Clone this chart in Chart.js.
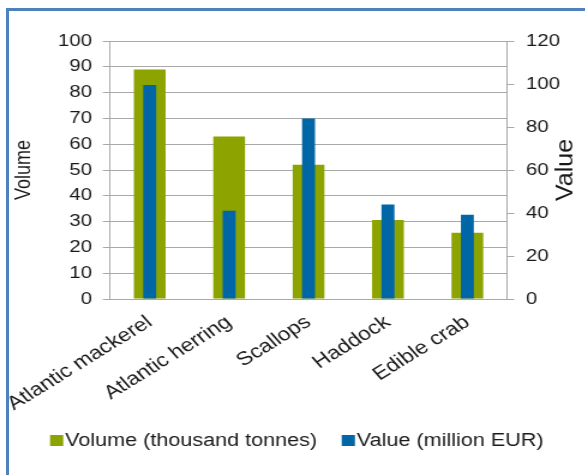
<!DOCTYPE html>
<html>
<head>
<meta charset="utf-8">
<script src="https://cdn.jsdelivr.net/npm/chart.js@4.4.1/dist/chart.umd.min.js"></script>
<style>
  html, body { margin: 0; padding: 0; background: #fff; overflow: hidden; }
  /* the reference is a horizontally stretched export, so the chart is drawn narrow and scaled */
  #wrap { position: absolute; left: 0; top: 0; width: 488px; height: 475px; transform: scaleX(1.2); transform-origin: 0 0; }
  #frame { position: absolute; left: 6px; top: 8px; width: 700px; height: 600px; border-left: 3px solid #4f81bd; border-top: 3px solid #4f81bd; }
</style>
</head>
<body>
<div id="wrap"><canvas id="chart"></canvas></div>
<div id="frame"></div>
<script>
// Data
const categories = ['Atlantic mackerel', 'Atlantic herring', 'Scallops', 'Haddock', 'Edible crab'];
const volumeValues = [89, 63, 52, 30.6, 25.7];   // thousand tonnes
const valueValues = [99.5, 41, 84, 44, 39.2];    // million EUR
const volumeTicks = [0, 10, 20, 30, 40, 50, 60, 70, 80, 90, 100];
const valueTicks = [0, 20, 40, 60, 80, 100, 120];

const colors = {
    volume: '#8ca300',
    value: '#0066a6',
    grid: '#a8a8a8',
    text: '#1a1a1a'
};
const FONT = '"Liberation Sans", Arial, sans-serif';

// Right axis title reads bottom-to-top, so draw it by hand
const valueTitlePlugin = {
    id: 'valueTitle',
    afterDraw(chart) {
        const scale = chart.scales.y1;
        const { ctx, chartArea } = chart;
        ctx.save();
        ctx.translate(471, (chartArea.top + chartArea.bottom) / 2);
        ctx.rotate(-Math.PI / 2);
        ctx.scale(1, 0.83);
        ctx.font = '25px ' + FONT;
        ctx.fillStyle = colors.text;
        ctx.textAlign = 'center';
        ctx.textBaseline = 'middle';
        ctx.fillText(scale.options.title.text, 0, 0);
        ctx.restore();
    }
};

// Legend with a tight box-to-text gap
const boxLegendPlugin = {
    id: 'boxLegend',
    afterDraw(chart, args, opts) {
        const ctx = chart.ctx;
        ctx.save();
        ctx.font = opts.fontSize + 'px ' + FONT;
        ctx.textBaseline = 'middle';
        let x = opts.x;
        chart.data.datasets.forEach(ds => {
            ctx.fillStyle = ds.backgroundColor;
            ctx.fillRect(x, opts.y - opts.box / 2, opts.box, opts.box);
            x += opts.box + opts.gap;
            ctx.fillStyle = colors.text;
            ctx.fillText(ds.label, x, opts.y + 1);
            x += ctx.measureText(ds.label).width + opts.itemGap;
        });
        ctx.restore();
    }
};

new Chart(document.getElementById('chart'), {
    type: 'bar',
    data: {
        labels: categories,
        datasets: [{
            label: 'Volume (thousand tonnes)',
            data: volumeValues,
            backgroundColor: colors.volume,
            yAxisID: 'y',
            grouped: false,
            order: 2,
            barPercentage: 0.40,
            categoryPercentage: 1
        }, {
            label: 'Value (million EUR)',
            data: valueValues,
            backgroundColor: colors.value,
            yAxisID: 'y1',
            grouped: false,
            order: 1,
            barPercentage: 0.163,
            categoryPercentage: 1
        }]
    },
    options: {
        responsive: true,
        maintainAspectRatio: false,
        animation: false,
        layout: {
            padding: { left: 9.2, right: 11.5, top: 41, bottom: 0 }
        },
        plugins: {
            legend: { display: false },
            tooltip: { enabled: false },
            boxLegend: { x: 41.7, y: 440.5, box: 11, gap: 1.5, itemGap: 20.4, fontSize: 18 }
        },
        scales: {
            x: {
                grid: { display: false },
                border: { display: true, color: colors.grid },
                ticks: {
                    color: colors.text,
                    font: { family: FONT, size: 19 },
                    minRotation: 36.5,
                    maxRotation: 36.5,
                    padding: 4
                },
                afterFit: (s) => {
                    // rotated labels may hang past the plot; don't let them push it
                    s.height = 176;
                    s.paddingLeft = 0;
                    s.paddingRight = 0;
                }
            },
            y: {
                position: 'left',
                min: 0,
                max: 100,
                afterBuildTicks: (s) => { s.ticks = volumeTicks.map(v => ({ value: v })); },
                grid: { color: colors.grid, tickLength: 6 },
                border: { display: true, color: colors.grid },
                ticks: {
                    color: colors.text,
                    font: { family: FONT, size: 17 },
                    padding: 9
                },
                title: {
                    display: true,
                    text: 'Volume',
                    color: colors.text,
                    font: { family: FONT, size: 18 },
                    padding: { top: 0, bottom: 8.5 }
                }
            },
            y1: {
                position: 'right',
                min: 0,
                max: 120,
                afterBuildTicks: (s) => { s.ticks = valueTicks.map(v => ({ value: v })); },
                grid: { drawOnChartArea: false, color: colors.grid, tickLength: 6 },
                border: { display: true, color: colors.grid },
                ticks: {
                    color: colors.text,
                    font: { family: FONT, size: 17 },
                    padding: 9.8
                },
                title: { display: false, text: 'Value' }
            }
        }
    },
    plugins: [valueTitlePlugin, boxLegendPlugin]
});
</script>
</body>
</html>
